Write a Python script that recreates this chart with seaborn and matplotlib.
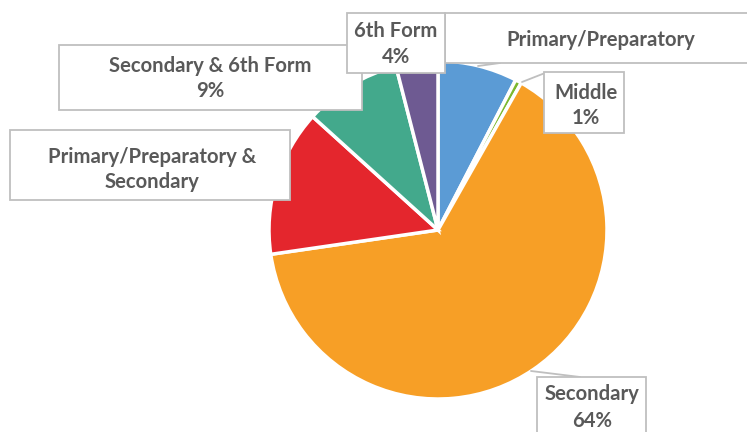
import matplotlib
matplotlib.use("Agg")
import matplotlib.pyplot as plt
from matplotlib.patches import Rectangle
import seaborn as sns

categories = ["Primary/Preparatory", "Middle", "Secondary",
              "Primary/Preparatory & Secondary", "Secondary & 6th Form", "6th Form"]
values = [7.6, 0.6, 64.5, 14.0, 9.3, 4.0]
show_pct = [False, True, True, False, True, True]
colors = ["#5B9BD5", "#7CB82F", "#F79F26", "#E4262D", "#43A98C", "#6E5A92"]

sns.set_theme(style="white")
plt.rcParams["font.family"] = ["Lato", "DejaVu Sans"]

W, H = 747, 432
fig = plt.figure(figsize=(W / 100, H / 100), dpi=100)
ax = fig.add_axes([0, 0, 1, 1])
palette = sns.color_palette(colors)

ax.pie(values, colors=palette, startangle=90, counterclock=False,
       center=(438, H - 230), radius=169,
       wedgeprops=dict(edgecolor="white", linewidth=2.5))
ax.set_xlim(0, W)
ax.set_ylim(0, H)
ax.set_aspect("auto")
ax.axis("off")

# label boxes in image pixel coords: (x0, y0, x1, y1), text center lines
boxes = {
    "Primary/Preparatory": ((445, 13, 760, 63), [(601, 40)]),
    "Middle": ((544, 72, 624, 133), [(586, 93), (586, 118)]),
    "Secondary": ((537, 377, 646, 445), [(592, 394), (592, 421)]),
    "Primary/Preparatory & Secondary": ((10, 130, 290, 200), [(152, 157), (152, 182)]),
    "Secondary & 6th Form": ((59, 45, 362, 110), [(210, 66), (210, 91)]),
    "6th Form": ((347, 13, 445, 73), [(396, 31), (396, 57)]),
}
leaders = {
    "Primary/Preparatory": [(478, 66), (500, 63)],
    "Middle": [(522, 82), (545, 73)],
    "Secondary": [(531, 371), (580, 377)],
}
special_lines = {
    "Primary/Preparatory & Secondary": ["Primary/Preparatory &", "Secondary"],
}

edge = "#BFBFBF"
txtc = "#595959"
for cat, val, sp in zip(categories, values, show_pct):
    (x0, y0, x1, y1), pos = boxes[cat]
    ax.add_patch(Rectangle((x0, H - y1), x1 - x0, y1 - y0, facecolor="white",
                           edgecolor=edge, linewidth=1.3, clip_on=False, zorder=5))
    if cat in special_lines:
        lines = special_lines[cat]
    elif sp:
        lines = [cat, f"{round(val):d}%"]
    else:
        lines = [cat]
    for (tx, ty), s in zip(pos, lines):
        ax.text(tx, H - ty, s, ha="center", va="center", fontsize=14.6,
                fontweight="bold", color=txtc, zorder=6)
    if cat in leaders:
        (ax_, ay_), (bx_, by_) = leaders[cat]
        ax.plot([ax_, bx_], [H - ay_, H - by_], color=edge, linewidth=1.3, zorder=4)

fig.savefig("out.png", dpi=100)
